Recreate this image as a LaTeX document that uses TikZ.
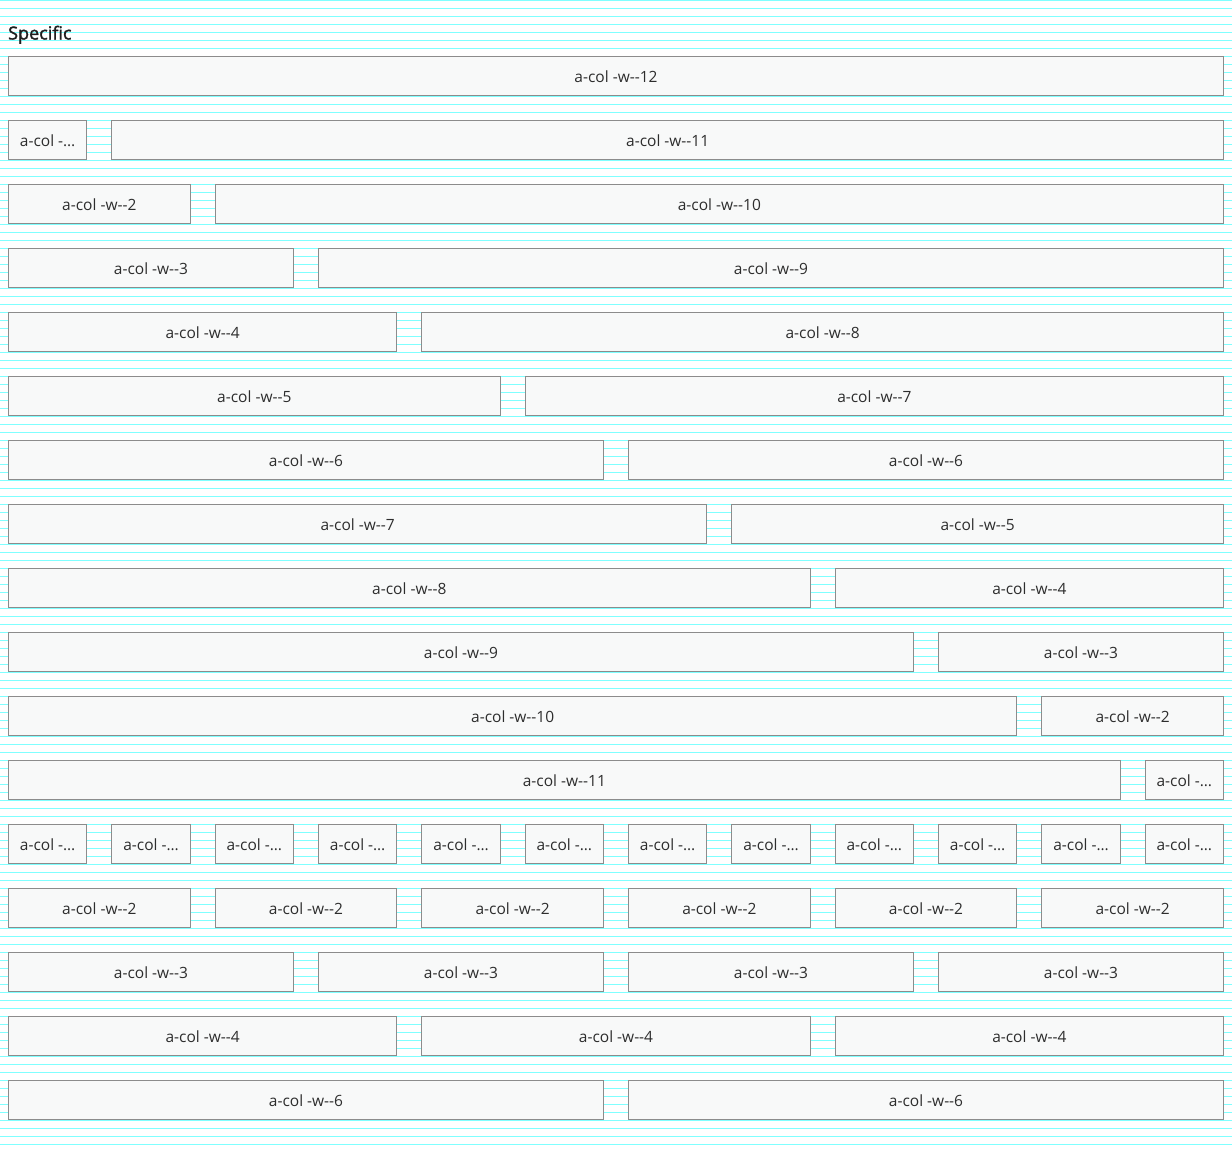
\documentclass[tikz,border=0pt]{standalone}
\usepackage{fontspec}
\newfontfamily\boxfont{Open Sans}
\newfontfamily\titlefont{Open Sans}[FakeBold=1.8]
\definecolor{stripe}{RGB}{128,255,255}
\definecolor{boxline}{RGB}{140,140,140}
\definecolor{boxfill}{RGB}{248,249,249}
\definecolor{boxtext}{RGB}{45,45,45}
\definecolor{titletext}{RGB}{30,30,30}
\newcommand\cblabel[1]{\raisebox{-1pt}[\height][\depth]{\ifnum#1=1 a-col -…\else a-col -w--#1\fi}}
\newcommand\cbox[4]{%
  \pgfmathsetmacro\cbx{8+#3*103.33333}%
  \pgfmathsetmacro\cbw{#4*79.33333+(#4-1)*24-1}%
  \pgfmathsetmacro\cby{76+64*#2}%
  \node[cbox, minimum width=\cbw pt, anchor=west] (#1) at (\cbx,\cby) {\cblabel{#4}};%
}
\begin{document}
\begin{tikzpicture}[x=1pt,y=-1pt,
  cbox/.style={draw=boxline, fill=boxfill, line width=1pt, minimum height=39pt,
    inner sep=0pt, text=boxtext, font=\boxfont\fontsize{15.5}{18}\selectfont},
  stripeline/.style={stripe, line width=1pt}]
\useasboundingbox (0,0) rectangle (1232,1152);
\foreach \k in {0,...,143} \draw[stripeline] (0,8*\k+0.5) -- (1232,8*\k+0.5);
\node[anchor=base west, inner sep=0pt, text=titletext,
  font=\titlefont\fontsize{18}{22}\selectfont] (title) at (8,39.5) {Specific};
\cbox{r0-a}{0}{0}{12}
\foreach \n [evaluate=\n as \m using int(12-\n)] in {1,...,11} {
  \cbox{r\n-a}{\n}{0}{\n}
  \cbox{r\n-b}{\n}{\n}{\m}
}
\foreach \size/\row in {1/12,2/13,3/14,4/15,6/16} {
  \pgfmathtruncatemacro\cnt{12/\size-1}
  \foreach \i in {0,...,\cnt} {
    \pgfmathtruncatemacro\st{\i*\size}
    \cbox{g\row-\i}{\row}{\st}{\size}
  }
}
\end{tikzpicture}
\end{document}
